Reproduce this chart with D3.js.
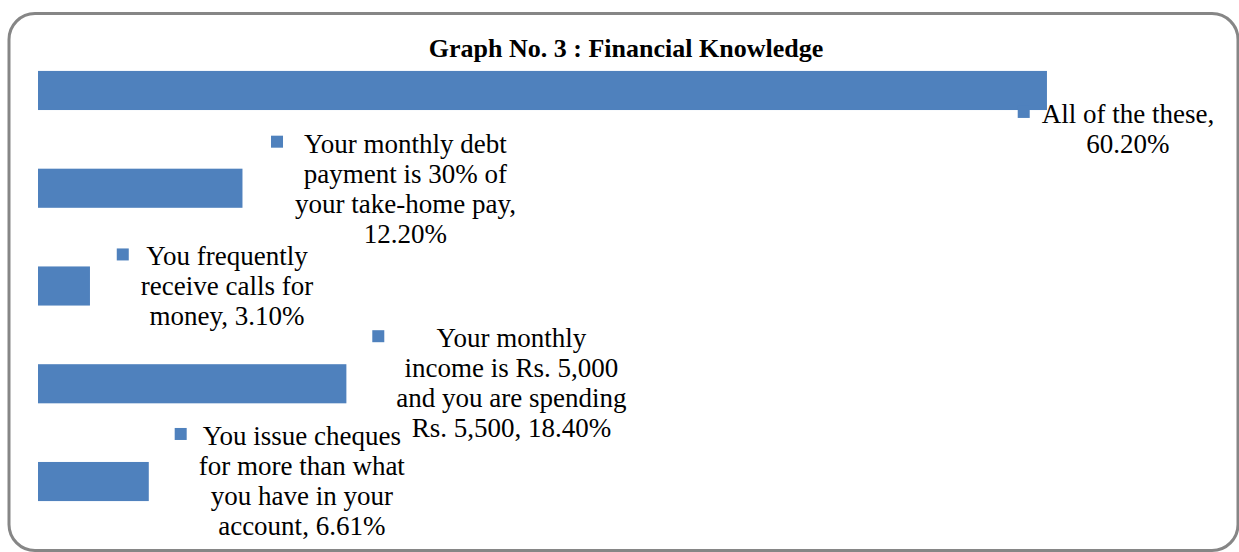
<!DOCTYPE html>
<html>
<head>
<meta charset="utf-8">
<script src="https://cdn.jsdelivr.net/npm/d3@7"></script>
<style>
    body { margin: 0; background: #fff; }
    #chart { width: 1239px; height: 552px; }
    .label { font-family: "Liberation Serif", "Times New Roman", serif; font-size: 27px; fill: #000; }
    .title { font-family: "Liberation Serif", "Times New Roman", serif; font-size: 26px; font-weight: bold; }
</style>
</head>
<body>
<div id="chart"></div>
<script>
// categories in the order Excel stores them (first one is drawn at the bottom)
var categories = [
    "You issue cheques for more than what you have in your account",
    "Your monthly income is Rs. 5,000 and you are spending Rs. 5,500",
    "You frequently receive calls for money",
    "Your monthly debt payment is 30% of your take-home pay",
    "All of the these"
];
var values = [6.61, 18.40, 3.10, 12.20, 60.20];
var valueLabels = ["6.61%", "18.40%", "3.10%", "12.20%", "60.20%"];

// where each data label was dragged to, relative to the bar end / bar top
var labelDx = [153, 165, 137, 163, 81];
var labelDy = [-17, -17, -1, -16, 52];
var labelWrap = [212, 235, 180, 235, 180];

function init() {
    var w = 1239;
    var h = 552;
    var lineH = 30;

    var svg = d3.select("#chart")
        .append("svg")
        .attr("width", w)
        .attr("height", h);

    // outer frame
    svg.append("rect")
        .attr("x", 9)
        .attr("y", 13.5)
        .attr("width", 1229)
        .attr("height", 537)
        .attr("rx", 26)
        .attr("fill", "#fff")
        .attr("stroke", "#868686")
        .attr("stroke-width", 3);

    svg.append("text")
        .attr("class", "title")
        .attr("x", 626)
        .attr("y", 57)
        .attr("text-anchor", "middle")
        .text("Graph No. 3 : Financial Knowledge");

    var idx = d3.range(categories.length);

    var xScale = d3.scaleLinear()
        .domain([0, 70])
        .range([38, 38 + 70 * 16.76]);

    // top to bottom = last category to first
    var yScale = d3.scaleBand()
        .domain(idx.slice().reverse())
        .range([41.6, 530.4])
        .paddingInner(0.6)
        .paddingOuter(0.3);

    svg.selectAll("rect.bar")
        .data(idx)
        .enter()
        .append("rect")
        .attr("class", "bar")
        .attr("x", xScale(0))
        .attr("y", function(i) { return yScale(i); })
        .attr("width", function(i) { return xScale(values[i]) - xScale(0); })
        .attr("height", yScale.bandwidth())
        .attr("fill", "#4F81BD");

    // data labels: legend key + wrapped, centred text
    idx.forEach(function(i) {
        var cx = xScale(values[i]) + labelDx[i];
        var by = yScale(i) + labelDy[i];
        var g = svg.append("g");

        var words = (categories[i] + ", " + valueLabels[i]).split(" ");
        var lines = [];
        var cur = [];
        var probe = g.append("text").attr("class", "label");
        words.forEach(function(word) {
            var test = cur.concat([word]).join(" ");
            probe.text(test);
            if (cur.length && probe.node().getComputedTextLength() > labelWrap[i]) {
                lines.push(cur.join(" "));
                cur = [word];
            } else {
                cur.push(word);
            }
        });
        lines.push(cur.join(" "));

        var maxW = 0;
        lines.forEach(function(l) {
            probe.text(l);
            maxW = Math.max(maxW, probe.node().getComputedTextLength());
        });
        probe.remove();

        g.selectAll("text")
            .data(lines)
            .enter()
            .append("text")
            .attr("class", "label")
            .attr("x", cx)
            .attr("y", function(d, k) { return by + k * lineH; })
            .attr("text-anchor", "middle")
            .text(function(d) { return d; });

        g.append("rect")
            .attr("x", cx - maxW / 2 - 12 - 12)
            .attr("y", by - 17)
            .attr("width", 12)
            .attr("height", 12)
            .attr("fill", "#4F81BD");
    });
}

window.onload = init;
</script>
</body>
</html>
